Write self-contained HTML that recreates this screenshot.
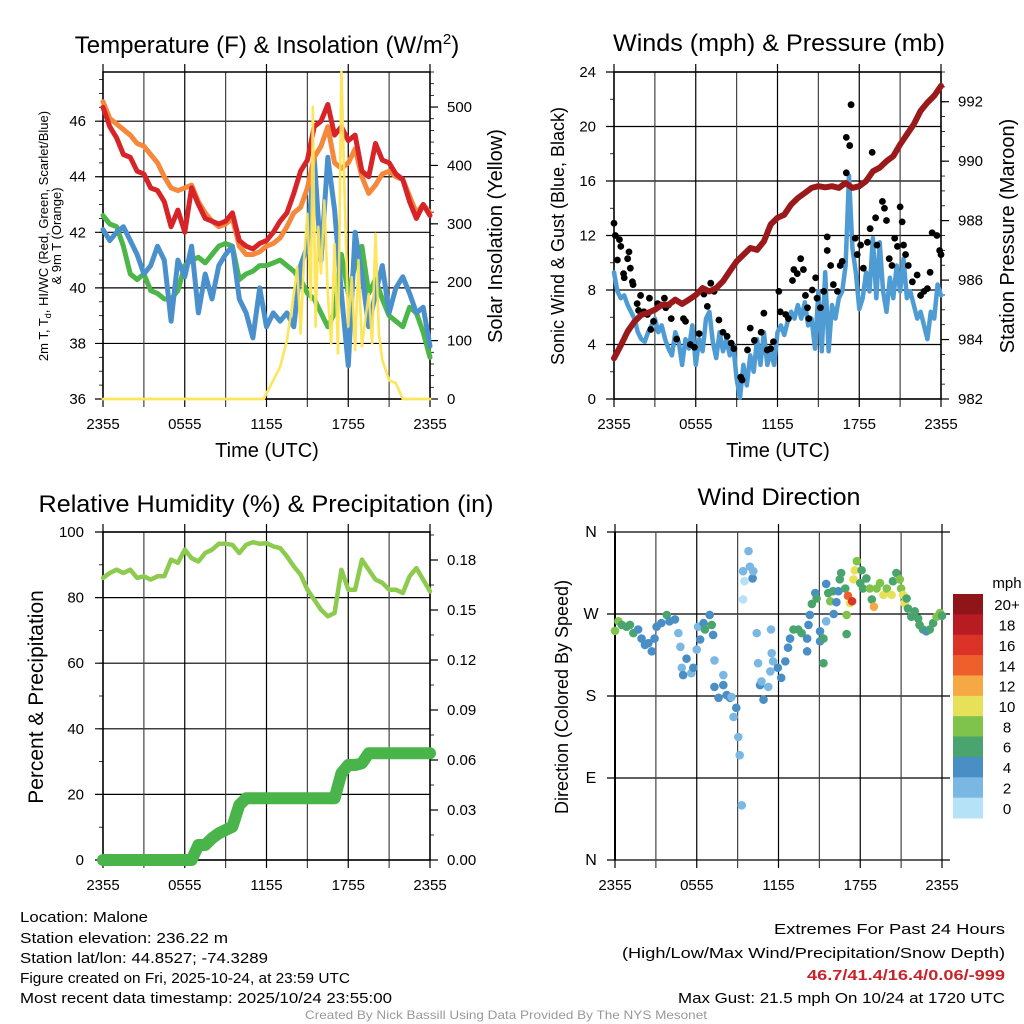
<!DOCTYPE html>
<html><head><meta charset="utf-8"><style>
html,body{margin:0;padding:0;background:#fff;}
svg{display:block;font-family:"Liberation Sans",sans-serif;}
</style></head><body>
<svg id="s" width="1024" height="1024" viewBox="0 0 1024 1024" xmlns="http://www.w3.org/2000/svg">
<rect width="1024" height="1024" fill="#fff"/>
<g id="g"></g>
<text x="267" y="53" font-size="24" text-anchor="middle">Temperature (F) &amp; Insolation (W/m<tspan font-size="15" dy="-9">2</tspan><tspan dy="9">)</tspan></text>
<text x="779" y="51" font-size="24" text-anchor="middle" textLength="332" lengthAdjust="spacingAndGlyphs">Winds (mph) &amp; Pressure (mb)</text>
<text x="266" y="512" font-size="24" text-anchor="middle" textLength="455" lengthAdjust="spacingAndGlyphs">Relative Humidity (%) &amp; Precipitation (in)</text>
<text x="779" y="505" font-size="24" text-anchor="middle" textLength="163" lengthAdjust="spacingAndGlyphs">Wind Direction</text>

<text x="267" y="457" font-size="20" text-anchor="middle">Time (UTC)</text>
<text x="778" y="457" font-size="20" text-anchor="middle">Time (UTC)</text>

<text transform="translate(48,236) rotate(-90)" font-size="13" text-anchor="middle">2m T, T<tspan font-size="9" dy="3">d</tspan><tspan dy="-3">, HI/WC (Red, Green, Scarlet/Blue)</tspan></text>
<text transform="translate(61,236) rotate(-90)" font-size="13" text-anchor="middle">&amp; 9m T (Orange)</text>
<text transform="translate(502,236) rotate(-90)" font-size="20" text-anchor="middle">Solar Insolation (Yellow)</text>
<text transform="translate(564,236) rotate(-90)" font-size="18" text-anchor="middle">Sonic Wind &amp; Gust (Blue, Black)</text>
<text transform="translate(1014,236) rotate(-90)" font-size="20" text-anchor="middle">Station Pressure (Maroon)</text>
<text transform="translate(43,697) rotate(-90)" font-size="21" text-anchor="middle">Percent &amp; Precipitation</text>
<text transform="translate(568,697) rotate(-90)" font-size="18" text-anchor="middle">Direction (Colored By Speed)</text>
<text x="1007" y="588" font-size="15" text-anchor="middle">mph</text>

<g font-size="15">
<text x="20" y="922" textLength="128" lengthAdjust="spacingAndGlyphs">Location: Malone</text>
<text x="20" y="943" textLength="208" lengthAdjust="spacingAndGlyphs">Station elevation: 236.22 m</text>
<text x="20" y="963" textLength="248" lengthAdjust="spacingAndGlyphs">Station lat/lon: 44.8527; -74.3289</text>
<text x="20" y="983" textLength="330" lengthAdjust="spacingAndGlyphs">Figure created on Fri, 2025-10-24, at 23:59 UTC</text>
<text x="20" y="1003" textLength="372" lengthAdjust="spacingAndGlyphs">Most recent data timestamp: 2025/10/24 23:55:00</text>
</g>
<g font-size="15" text-anchor="end">
<text x="1005" y="934" textLength="231" lengthAdjust="spacingAndGlyphs">Extremes For Past 24 Hours</text>
<text x="1005" y="958" textLength="383" lengthAdjust="spacingAndGlyphs">(High/Low/Max Wind/Precipitation/Snow Depth)</text>
<text x="1005" y="980" fill="#c8242b" font-weight="bold" textLength="198" lengthAdjust="spacingAndGlyphs">46.7/41.4/16.4/0.06/-999</text>
<text x="1005" y="1003" textLength="327" lengthAdjust="spacingAndGlyphs">Max Gust: 21.5 mph On 10/24 at 1720 UTC</text>
</g>
<text x="506" y="1019" font-size="12" fill="#999" text-anchor="middle" textLength="402" lengthAdjust="spacingAndGlyphs">Created By Nick Bassill Using Data Provided By The NYS Mesonet</text>
</svg>
<script>
// ---- data (0.5 h steps, 0..24 h) ----
const tempRed=[46.5,45.8,45.4,44.8,44.7,44.2,44.1,43.6,43.5,43.1,42.2,42.8,42.0,43.6,43.0,42.5,42.4,42.3,42.4,42.7,41.7,41.5,41.4,41.6,41.7,42.0,42.4,42.7,43.4,44.2,44.6,45.8,46.0,46.6,45.5,45.8,45.3,45.5,44.2,44.0,45.2,44.6,44.5,44.1,43.9,43.1,42.5,43.0,42.6];
const tempOrange=[46.7,46.1,45.9,45.7,45.5,45.2,45.1,44.8,44.5,44.0,43.6,43.5,43.6,43.7,43.1,42.7,42.4,42.2,42.3,42.5,41.5,41.2,41.2,41.3,41.5,41.6,41.8,42.2,42.7,42.9,43.6,44.7,45.1,45.8,44.5,44.3,44.5,45.0,44.0,43.4,43.7,44.1,44.2,44.0,43.9,43.3,42.7,43.0,42.7];
const tempGreen=[42.6,42.3,42.2,41.5,40.5,40.3,40.5,39.9,39.8,39.6,39.6,39.9,40.8,41.0,41.1,40.9,41.2,41.5,41.6,41.5,40.3,40.5,40.6,40.8,40.8,40.9,41.0,40.8,40.6,40.3,39.8,39.6,39.1,38.6,39.1,41.2,39.8,40.8,41.5,39.8,40.3,39.6,39.0,38.8,38.6,39.3,39.1,38.4,37.5];
const tempBlue=[42.1,41.7,42.0,42.2,41.7,41.2,40.5,40.8,41.5,41.0,38.8,41.0,40.4,41.5,39.1,40.5,39.6,40.8,41.2,41.5,39.6,39.1,38.2,40.0,38.6,39.1,38.8,39.1,38.6,40.8,41.5,44.7,41.0,44.7,42.8,39.8,37.2,42.0,40.5,38.6,39.8,40.8,39.1,40.0,40.4,39.8,39.1,39.3,37.9];
const solarT=[0,11.8,12,12.5,13,13.5,14,14.25,14.5,14.75,15,15.25,15.4,15.6,15.8,16,16.25,16.5,16.75,17,17.25,17.5,17.75,18,18.25,18.5,18.75,19,19.25,19.5,19.75,20,20.25,20.5,21,21.5,22,24];
const solarV=[0,0,10,32,55,100,180,226,112,238,317,169,500,124,295,215,340,180,95,266,78,560,340,124,209,84,238,90,135,180,95,283,112,67,32,27,0,0];
// winds (0.25 h steps)
const windSpeed=[9.3,7.9,7.4,7.6,6.9,6.4,5.9,4.9,4.4,4.2,4.9,5.4,5.9,4.9,5.4,4.4,3.7,3.2,4.9,4.2,2.5,4.4,3.7,5.4,2.5,4.4,3.5,5.9,6.4,4.2,3.0,4.9,3.5,4.4,3.2,4.0,1.5,0.1,2.5,1.0,3.2,2.0,4.4,2.5,4.9,2.5,3.5,2.5,4.9,5.4,4.7,5.7,6.4,5.9,6.9,5.9,7.1,5.4,5.9,3.7,7.9,3.5,9.3,3.5,6.9,5.9,7.4,7.9,9.8,16.4,11.1,9.3,6.6,7.4,9.3,7.9,11.8,7.4,11.5,7.9,6.4,8.9,7.4,9.8,7.9,10.3,7.4,7.9,6.9,5.9,6.4,5.4,4.4,6.4,5.9,8.4,7.6];
const pressure=[983.37,983.8,984.27,984.6,984.83,984.9,985.0,985.17,985.17,985.34,985.2,985.34,985.5,985.73,985.62,985.73,985.96,986.3,986.63,986.85,987.08,987.02,987.3,987.87,988.1,988.2,988.54,988.76,988.93,989.1,989.16,989.12,989.16,989.1,989.27,989.1,989.16,989.33,989.66,989.78,990.0,990.17,990.56,990.9,991.24,991.69,991.97,992.2,992.53];
const gustT=[0,0.1,0.4,0.5,0.25,1.1,1,0.7,0.75,1.2,1.35,1.4,1.95,1.7,1.8,2.2,2.45,2.6,2.7,2.9,3.2,3.4,3.7,3.8,4.0,4.2,4.6,5.1,5.25,5.6,5.9,6.25,6.6,6.85,7.1,7.35,7.7,8.0,8.3,8.6,8.8,9.3,9.4,9.8,10.0,10.3,10.8,11.0,11.25,11.5,11.7,12.1,12.2,12.6,12.8,13.1,13.2,13.45,13.7,13.9,14.05,14.2,14.3,14.55,14.8,14.9,15.15,15.4,15.65,15.65,15.9,16.1,16.4,16.6,16.75,17.05,17.05,17.3,17.4,17.7,17.85,18.1,18.3,18.6,18.8,18.95,19.2,19.3,19.7,19.85,20.0,20.2,20.4,20.6,20.8,21.0,21.15,21.25,21.4,21.6,21.9,22.25,22.5,22.75,23.0,23.2,23.35,23.7,23.9,24];
const gustV=[12.9,12.0,11.7,11.2,10.2,10.8,10.3,9.2,8.9,9.6,8.6,8.4,7.6,7.0,6.5,6.4,6.2,7.4,5.1,5.7,7.0,6.9,7.4,6.7,6.9,5.9,4.4,5.9,5.7,4.0,3.8,4.8,7.7,6.8,8.5,7.9,5.8,4.9,4.6,4.1,3.7,1.6,1.4,3.6,5.2,4.3,4.9,6.3,3.6,3.7,4.2,7.9,6.4,6.2,5.9,8.7,9.5,9.2,10.3,9.5,7.6,6.7,5.9,8.0,8.9,7.4,6.7,7.9,11.9,10.9,9.8,8.4,7.9,9.8,10.1,16.6,19.2,18.6,21.6,11.8,10.6,11.3,9.6,11.5,12.5,18.1,13.3,11.3,14.5,14.0,13.1,10.3,9.8,11.8,11.2,14.1,13.0,11.3,10.6,9.8,8.6,9.1,7.6,7.9,8.1,9.3,12.2,12.0,10.9,10.6];
// humidity & precip (0.5 h steps)
const humidity=[86,87.5,88.5,87.5,88.5,86,86.5,85.5,86.5,86.5,91.6,90.6,94.6,92,91,93.6,94.6,96.4,96.4,96.1,93.6,96.1,96.9,96.4,96.6,95.6,95.1,92.6,89.5,87,82.4,79.4,76.3,74.3,75.3,88.5,82.4,82.4,91.6,88.5,85.5,84.5,82.4,82.4,81.4,86.5,89,85.5,81.9];
const precip=[0,0,0,0,0,0,0,0,0,0,0,0,0,0,0.009,0.009,0.013,0.016,0.018,0.02,0.033,0.037,0.037,0.037,0.037,0.037,0.037,0.037,0.037,0.037,0.037,0.037,0.037,0.037,0.037,0.052,0.057,0.057,0.058,0.064,0.064,0.064,0.064,0.064,0.064,0.064,0.064,0.064,0.064];
// wind direction
const dirT=[0,0.25,0.5,0.85,1.1,1.35,1.7,1.95,2.2,2.45,2.7,2.9,3.05,3.4,3.8,4.0,4.4,4.65,4.8,4.9,5.0,5.25,5.6,5.75,6.0,6.1,6.25,6.5,6.6,6.95,7.1,7.2,7.3,7.3,7.6,7.95,7.95,8.2,8.45,8.55,8.7,8.9,9.05,9.15,9.3,9.4,9.5,9.8,9.9,10.1,10.15,9.4,10.4,10.5,10.65,10.75,10.9,11.25,11.4,11.5,11.45,11.6,11.95,12.2,12.5,12.7,12.85,13.1,13.45,13.7,14.1,14.1,14.2,14.3,14.45,14.7,14.8,15.05,15.05,15.3,15.3,15.5,15.5,15.65,15.8,16.0,16.05,16.25,16.4,16.5,16.6,16.9,17.0,17.0,17.1,17.25,17.4,17.5,17.6,17.75,18.0,18.1,18.2,18.45,18.7,18.85,19.0,19.2,19.45,19.7,19.95,20.3,20.4,20.65,20.9,21.0,21.15,21.25,21.4,21.5,21.75,22.0,22.25,22.35,22.6,22.85,23.1,23.35,23.6,23.85,24];
const dirV=[251.5,262,258,256,258,249,253,243,236,238,229,243,256,260,269,262,264,249,234,211,203,221,205,211,231,256,242,260,253,269,258,247,219,190,178,203,192,181,178,179,157,167,135,115,60,317,306,339,322,309,317,286,249,216,192,196,176,190,207,227,253,218,211,200,218,233,243,253,253,249,243,229,258,269,281,293,287,251,240,216,243,262,303,293,284,295,270,283,295,308,315,298,269,248,290,282,284,308,318,328,304,318,298,309,298,286,278,298,304,291,298,291,306,315,308,298,291,282,287,276,267,273,265,258,253,251,253,260,267,271,268];
const dirSpd=[8,8,6,6,6,6,4,4,4,4,4,4,4,4,6,4,4,2,2,2,4,4,2,4,2,2,4,4,6,4,6,4,2,4,4,2,4,4,4,2,2,4,2,2,2,2,0,2,2,4,2,0,2,2,4,2,4,2,2,2,2,2,4,4,4,4,4,6,6,6,4,4,4,4,6,4,6,4,4,6,6,2,4,6,8,6,4,4,4,6,6,6,8,6,14,10,16,10,10,8,6,6,6,6,8,6,12,8,8,10,8,10,6,6,8,8,10,10,6,6,6,6,6,6,6,4,6,6,8,8,6];
const cbLabels=["20+","18","16","14","12","10","8","6","4","2","0"];
const cbColors=["#8f1519","#b81b21","#dc3329","#ef5f2b","#f6a844","#e6e158","#7fc34c","#49a56d","#4a8ec6","#7ab8e3","#b5e2f7"];
const xTickLabels=["2355","0555","1155","1755","2355"];

const NS="http://www.w3.org/2000/svg";
const G=document.getElementById('g');
function el(tag,attrs,parent){const e=document.createElementNS(NS,tag);for(const k in attrs)e.setAttribute(k,attrs[k]);(parent||G).appendChild(e);return e;}
function lin(d0,d1,r0,r1){return v=>r0+(v-d0)/(d1-d0)*(r1-r0);}

function panel(P){
  const x=lin(0,24,P.x0,P.x1);
  const grp=el('g',{});
  
  
  const gx1=P.gridExt||P.x1;
  P.yTicks.forEach((v,i)=>{const yy=P.y(v);
    const ln=el('line',{x1:P.x0-8,x2:gx1,y1:yy,y2:yy,stroke:'#000','stroke-width':1.2},grp);
    
    const t=el('text',{x:P.lx,y:yy+5,'font-size':P.lfs||15,'text-anchor':P.lanchor||'end'},grp);
    
    t.textContent=P.yLabels?P.yLabels[i]:v;});
  (P.yMinor||[]).forEach(v=>{const yy=P.y(v);el('line',{x1:P.x0-4,x2:P.x0,y1:yy,y2:yy,stroke:'#000','stroke-width':0.8},grp);});
  for(let h=0;h<=24;h+=3){const xx=x(h);
    const ln=el('line',{x1:xx,x2:xx,y1:P.y0-(h%6==0?8:0),y2:P.y1+8,stroke:(h%6==0?'#000':'#444'),'stroke-width':1.2},grp);
    }
  xTickLabels.forEach((s,i)=>{const t=el('text',{x:x(i*6),y:P.y1+30,'font-size':15,'text-anchor':'middle'},grp);
    t.textContent=s;});
  if(P.frame!==false){el('rect',{x:P.x0,y:P.y0,width:P.x1-P.x0,height:P.y1-P.y0,fill:'none',stroke:'#000','stroke-width':1.5},grp);}
  else {el('line',{x1:P.x0,x2:P.x0,y1:P.y0,y2:P.y1,stroke:'#000','stroke-width':2},grp);}
  if(P.r){
    P.rTicks.forEach((v,i)=>{const yy=P.r(v);
      el('line',{x1:P.x1,x2:P.x1+8,y1:yy,y2:yy,stroke:'#000','stroke-width':1.2},grp);
      const t=el('text',{x:P.x1+17,y:yy+5,'font-size':15},grp);
      
      t.textContent=P.rLabels[i];});
    (P.rMinor||[]).forEach(v=>{const yy=P.r(v);el('line',{x1:P.x1,x2:P.x1+4,y1:yy,y2:yy,stroke:'#000','stroke-width':0.8},grp);});
  }
  return x;
}
function line(xs,ys,color,w,name){
  const d=xs.map((v,i)=>(i?'L':'M')+v.toFixed(1)+','+ys[i].toFixed(1)).join('');
  const p=el('path',{d:d,fill:'none',stroke:color,'stroke-width':w,'stroke-linejoin':'round','stroke-linecap':'round'});
  
  
  return p;
}
function range(n,step){return Array.from({length:n},(_,i)=>i*step);}
function seq(a,b,s){const r=[];for(let v=a;v<=b+1e-9;v+=s)r.push(+v.toFixed(4));return r;}

// ---- Panel 1 ----
const P1={name:'temperature',x0:103,x1:430,y0:72,y1:399,y:lin(36,47.77,399,72),r:lin(0,560,399,72),lx:86,
  yTicks:[36,38,40,42,44,46],yMinor:seq(36,47.5,0.5),rTicks:[0,100,200,300,400,500],rLabels:['0','100','200','300','400','500'],rMinor:seq(0,560,20)};
const x1=panel(P1);
const th=range(49,0.5);
line(solarT.map(x1),solarV.map(P1.r),'#fde45c',2.5,'insolation-line');
line(th.map(x1),tempGreen.map(P1.y),'#4cb648',5,'dewpoint-line');
line(th.map(x1),tempBlue.map(P1.y),'#4a90cc',5,'windchill-line');
line(th.map(x1),tempOrange.map(P1.y),'#f5883a',5,'temp-9m-line');
line(th.map(x1),tempRed.map(P1.y),'#d62429',5,'temp-2m-line');
line(solarT.map(x1),solarV.map(P1.r),'#fde45c',2.5,'insolation-line-top').setAttribute('opacity','0.9');

// ---- Panel 2 ----
const P2={name:'winds',x0:614,x1:941,y0:72,y1:399,y:lin(0,24,399,72),r:lin(982,993,399,72),lx:596,
  yTicks:[0,4,8,12,16,20,24],yMinor:seq(0,24,2),rTicks:[982,984,986,988,990,992],rLabels:['982','984','986','988','990','992'],rMinor:seq(982,993,0.5)};
const x2=panel(P2);
line(range(97,0.25).map(x2),windSpeed.map(P2.y),'#4f9bd4',4.5,'wind-speed-line');
gustT.forEach((t,i)=>{const c=el('circle',{cx:x2(t),cy:P2.y(gustV[i]),r:3.4,fill:'#000'});
  
  });
line(th.map(x2),pressure.map(P2.r),'#9a1a1c',6,'pressure-line');

// ---- Panel 3 ----
const P3={name:'humidity',x0:103,x1:430,y0:532,y1:860,y:lin(0,100,860,532),r:lin(0,0.1968,860,532),lx:84,
  yTicks:[0,20,40,60,80,100],yMinor:seq(0,100,10),rTicks:[0,0.03,0.06,0.09,0.12,0.15,0.18],rLabels:['0.00','0.03','0.06','0.09','0.12','0.15','0.18'],rMinor:seq(0,0.195,0.015)};
const x3=panel(P3);
line(th.map(x3),humidity.map(P3.y),'#8dcb4e',4.5,'humidity-line');
line(th.map(x3),precip.map(P3.r),'#48b449',12,'precip-line');

// ---- Panel 4 ----
const P4={name:'direction',x0:615,x1:942,y0:532,y1:860,y:lin(0,360,860,532),lx:591,lanchor:'middle',lfs:16,gridExt:950,frame:false,
  yTicks:[0,90,180,270,360],yLabels:['N','E','S','W','N']};
const x4=panel(P4);
dirT.forEach((t,i)=>{const b=Math.min(10,Math.floor(dirSpd[i]/2));
  const c=el('circle',{cx:x4(t),cy:P4.y(dirV[i]),r:4.3,fill:cbColors[10-b]});
  
  });
const cb=el('g',{});


const cbY=lin(0,11,594,818);
cbLabels.forEach((s,i)=>{
  const r=el('rect',{x:953,y:cbY(i),width:30,height:cbY(i+1)-cbY(i)+0.5,fill:cbColors[i]},cb);
  
  
  const t=el('text',{x:1007,y:(cbY(i)+cbY(i+1))/2+6,'font-size':15,'text-anchor':'middle'},cb);
  
  
  t.textContent=s;});
</script>
</body></html>
